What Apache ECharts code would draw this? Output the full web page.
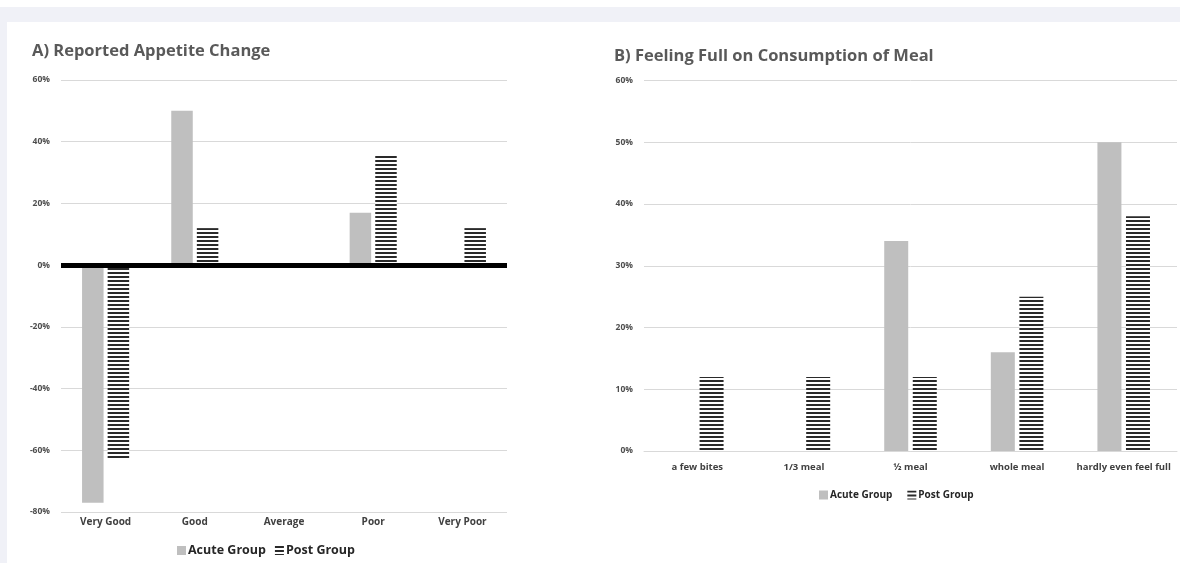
<!DOCTYPE html>
<html>
<head>
<meta charset="utf-8">
<script src="https://cdn.jsdelivr.net/npm/echarts@6/dist/echarts.min.js"></script>
<style>
  html, body { margin: 0; padding: 0; background: #ffffff; }
  #topstrip { position: absolute; left: 0; top: 7px; width: 1180px; height: 15px; background: #f0f1f7; }
  #leftstrip { position: absolute; left: 0; top: 7px; width: 7px; height: 556px; background: #f0f1f7; }
  #chart { position: absolute; left: 0; top: 0; width: 1180px; height: 563px; }
</style>
</head>
<body>
<div id="topstrip"></div>
<div id="leftstrip"></div>
<div id="chart"></div>
<script>
// ---- Data ----
const catsA = ['Very Good', 'Good', 'Average', 'Poor', 'Very Poor'];
const acuteA = [-77, 50, 0, 17, 0];
const postA = [-63, 12, 0, 36, 12];
const ticksA = { min: -80, max: 60, interval: 20 };

const catsB = ['a few bites', '1/3 meal', '½ meal', 'whole meal', 'hardly even feel full'];
const acuteB = [0, 0, 34, 16, 50];
const postB = [12, 12, 12, 25, 38];
const ticksB = { min: 0, max: 60, interval: 10 };

const seriesNames = ['Acute Group', 'Post Group'];
const titles = ['A) Reported Appetite Change', 'B) Feeling Full on Consumption of Meal'];

// ---- Styles ----
const FONT = '"Open Sans", "Noto Sans", sans-serif';
const acuteColor = '#bfbfbf';

function hatch() {
  const c = document.createElement('canvas');
  c.width = 4; c.height = 4;
  const ctx = c.getContext('2d');
  ctx.fillStyle = '#ffffff';
  ctx.fillRect(0, 0, 4, 4);
  ctx.fillStyle = '#2a2a2a';
  ctx.fillRect(0, 0, 4, 2);
  return { image: c, repeat: 'repeat' };
}
const postColor = hatch();

const chart = echarts.init(document.getElementById('chart'), null, { renderer: 'canvas' });

const yLabel = { color: '#4d4d4d', fontFamily: FONT, fontWeight: 'bold', fontSize: 8.5, margin: 11, formatter: '{value}%' };
const xLabelBase = { color: '#404040', fontFamily: FONT, fontWeight: 'bold', interval: 0 };
const split = { show: true, lineStyle: { color: '#d9d9d9', width: 1 } };

chart.setOption({
  animation: false,
  title: [
    { text: titles[0], left: 32, top: 43, padding: 0,
      textStyle: { color: '#595959', fontFamily: FONT, fontWeight: 'bold', fontSize: 16.5 } },
    { text: titles[1], left: 614, top: 48, padding: 0,
      textStyle: { color: '#595959', fontFamily: FONT, fontWeight: 'bold', fontSize: 16.5 } }
  ],
  legend: [
    { left: 177, top: 544, padding: 0, itemWidth: 9, itemHeight: 9, itemGap: 9,
      icon: 'rect', data: seriesNames, selectedMode: false,
      textStyle: { color: '#262626', fontFamily: FONT, fontWeight: 'bold', fontSize: 12.5, padding: [0, 0, 0, -3] } },
    { left: 819, top: 490, padding: 0, itemWidth: 9, itemHeight: 9, itemGap: 15,
      icon: 'rect', data: seriesNames, selectedMode: false,
      textStyle: { color: '#262626', fontFamily: FONT, fontWeight: 'bold', fontSize: 10, padding: [0, 0, 0, -3] } }
  ],
  grid: [
    { left: 61, right: 673, top: 80, bottom: 51 },
    { left: 644, right: 3, top: 80.5, bottom: 112 }
  ],
  xAxis: [
    { type: 'category', gridIndex: 0, data: catsA,
      axisLine: { show: false }, axisTick: { show: false },
      axisLabel: Object.assign({ fontSize: 10, margin: 5 }, xLabelBase) },
    { type: 'category', gridIndex: 1, data: catsB,
      axisLine: { show: true, lineStyle: { color: '#d9d9d9', width: 1 } }, axisTick: { show: false },
      axisLabel: Object.assign({ fontSize: 9.5, margin: 11 }, xLabelBase) }
  ],
  yAxis: [
    { type: 'value', gridIndex: 0, min: ticksA.min, max: ticksA.max, interval: ticksA.interval,
      axisLine: { show: false }, axisTick: { show: false }, axisLabel: yLabel, splitLine: split },
    { type: 'value', gridIndex: 1, min: ticksB.min, max: ticksB.max, interval: ticksB.interval,
      axisLine: { show: false }, axisTick: { show: false }, axisLabel: yLabel, splitLine: split }
  ],
  series: [
    { name: seriesNames[0], type: 'bar', xAxisIndex: 0, yAxisIndex: 0, data: acuteA,
      barWidth: 21.5, barGap: '19%', itemStyle: { color: acuteColor },
      emphasis: { disabled: true },
      markLine: { silent: true, symbol: 'none', label: { show: false },
        lineStyle: { color: '#000000', width: 5, type: 'solid' }, data: [{ yAxis: 0 }] } },
    { name: seriesNames[1], type: 'bar', xAxisIndex: 0, yAxisIndex: 0, data: postA,
      barWidth: 21.5, barGap: '19%', itemStyle: { color: postColor },
      emphasis: { disabled: true } },
    { name: seriesNames[0], type: 'bar', xAxisIndex: 1, yAxisIndex: 1, data: acuteB,
      barWidth: 24, barGap: '19%', itemStyle: { color: acuteColor },
      emphasis: { disabled: true } },
    { name: seriesNames[1], type: 'bar', xAxisIndex: 1, yAxisIndex: 1, data: postB,
      barWidth: 24, barGap: '19%', itemStyle: { color: postColor },
      emphasis: { disabled: true } }
  ]
});
</script>
</body>
</html>
